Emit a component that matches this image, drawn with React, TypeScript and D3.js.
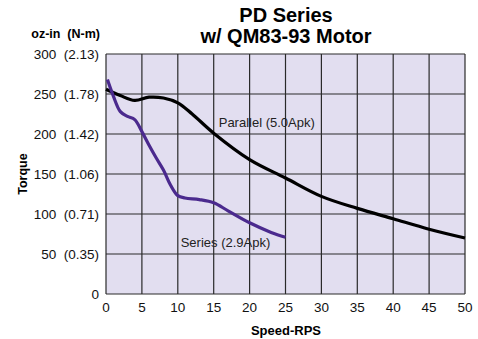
import React, { useRef, useEffect } from 'react';
import * as d3 from 'd3';

// Speed (RPS) and torque (oz-in)
const parallelSpeed = [0, 2, 4, 6, 8, 10, 12, 15, 20, 25, 30, 35, 40, 45, 50];
const parallelTorque = [256, 248, 242, 246, 245, 239, 225, 201, 168, 145, 122, 107, 94, 81, 70];

const seriesSpeed = [0.2, 1, 2, 3, 4, 5, 6, 7, 8, 9, 10, 11, 13, 15, 17, 20, 23, 25];
const seriesTorque = [268, 248, 228, 222, 218, 203, 186, 170, 155, 136, 123, 120, 118, 114, 104, 89, 77, 71];

const yTicks = [0, 50, 100, 150, 200, 250, 300];
const yTickNm = ['', '(0.35)', '(0.71)', '(1.06)', '(1.42)', '(1.78)', '(2.13)'];
const xTicks = [0, 5, 10, 15, 20, 25, 30, 35, 40, 45, 50];

function App() {
  const svgRef = useRef<SVGSVGElement>(null);

  useEffect(() => {
    const svg = d3.select(svgRef.current);
    svg.selectAll('*').remove();

    const margin = { top: 54, right: 13, bottom: 45, left: 106 };
    const width = 478 - margin.left - margin.right;
    const height = 339 - margin.top - margin.bottom;
    const font = 'Liberation Sans, Arial, sans-serif';

    const x = d3.scaleLinear().domain([0, 50]).range([0, width]);
    const y = d3.scaleLinear().domain([0, 300]).range([height, 0]);

    const g = svg.append('g').attr('transform', `translate(${margin.left},${margin.top})`);

    // plot background
    g.append('rect')
      .attr('width', width)
      .attr('height', height)
      .attr('fill', '#e2def0');

    // grid
    g.selectAll('.vgrid')
      .data(xTicks)
      .enter()
      .append('line')
      .attr('x1', d => x(d))
      .attr('x2', d => x(d))
      .attr('y1', 0)
      .attr('y2', height)
      .attr('stroke', '#2a2a2a')
      .attr('stroke-width', 1.2);

    g.selectAll('.hgrid')
      .data(yTicks)
      .enter()
      .append('line')
      .attr('x1', 0)
      .attr('x2', width)
      .attr('y1', d => y(d))
      .attr('y2', d => y(d))
      .attr('stroke', '#2a2a2a')
      .attr('stroke-width', 1.2);

    // y tick labels
    g.selectAll('.ylab')
      .data(yTicks)
      .enter()
      .append('text')
      .attr('x', -7)
      .attr('y', d => y(d))
      .attr('dy', '0.35em')
      .attr('text-anchor', 'end')
      .attr('font-family', font)
      .attr('font-size', 13.5)
      .attr('fill', '#111')
      .style('white-space', 'pre')
      .text((d, i) => (yTickNm[i] ? `${d}  ${yTickNm[i]}` : `${d}`));

    // x tick labels
    g.selectAll('.xlab')
      .data(xTicks)
      .enter()
      .append('text')
      .attr('x', d => x(d))
      .attr('y', height + 18)
      .attr('text-anchor', 'middle')
      .attr('font-family', font)
      .attr('font-size', 13.5)
      .attr('fill', '#111')
      .text(d => d);

    const line = d3
      .line<[number, number]>()
      .x(d => x(d[0]))
      .y(d => y(d[1]))
      .curve(d3.curveCatmullRom.alpha(0.5));

    g.append('path')
      .datum(parallelSpeed.map((s, i) => [s, parallelTorque[i]] as [number, number]))
      .attr('d', line)
      .attr('fill', 'none')
      .attr('stroke', '#000')
      .attr('stroke-width', 3.2);

    g.append('path')
      .datum(seriesSpeed.map((s, i) => [s, seriesTorque[i]] as [number, number]))
      .attr('d', line)
      .attr('fill', 'none')
      .attr('stroke', '#4b2a8e')
      .attr('stroke-width', 3.2);

    // curve labels
    g.append('text')
      .attr('x', x(15.7))
      .attr('y', y(209))
      .attr('font-family', font)
      .attr('font-size', 13)
      .attr('fill', '#222')
      .text('Parallel (5.0Apk)');

    g.append('text')
      .attr('x', x(10.4))
      .attr('y', y(59))
      .attr('font-family', font)
      .attr('font-size', 13)
      .attr('fill', '#222')
      .text('Series (2.9Apk)');

    // titles
    svg.append('text')
      .attr('x', 286)
      .attr('y', 22)
      .attr('text-anchor', 'middle')
      .attr('font-family', font)
      .attr('font-weight', 'bold')
      .attr('font-size', 20)
      .text('PD Series');

    svg.append('text')
      .attr('x', 286)
      .attr('y', 43)
      .attr('text-anchor', 'middle')
      .attr('font-family', font)
      .attr('font-weight', 'bold')
      .attr('font-size', 20)
      .text('w/ QM83-93 Motor');

    svg.append('text')
      .attr('x', 100)
      .attr('y', 38)
      .attr('text-anchor', 'end')
      .attr('font-family', font)
      .attr('font-weight', 'bold')
      .attr('font-size', 12.5)
      .style('white-space', 'pre')
      .text('oz-in  (N-m)');

    svg.append('text')
      .attr('transform', `translate(27,${margin.top + height / 2}) rotate(-90)`)
      .attr('text-anchor', 'middle')
      .attr('font-family', font)
      .attr('font-weight', 'bold')
      .attr('font-size', 12.5)
      .text('Torque');

    svg.append('text')
      .attr('x', 286)
      .attr('y', 335)
      .attr('text-anchor', 'middle')
      .attr('font-family', font)
      .attr('font-weight', 'bold')
      .attr('font-size', 13)
      .text('Speed-RPS');
  }, []);

  return (
    <svg
      ref={svgRef}
      width={478}
      height={339}
      style={{ position: 'absolute', left: 0, top: 0, background: '#fff' }}
    ></svg>
  );
}

export default App;
